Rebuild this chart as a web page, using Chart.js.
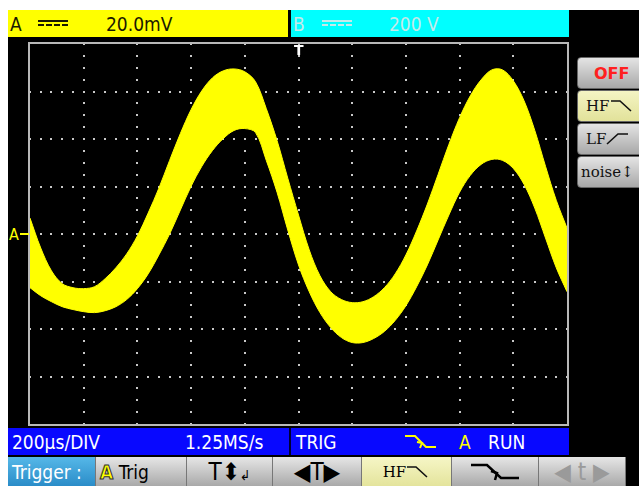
<!DOCTYPE html>
<html>
<head>
<meta charset="utf-8">
<script src="https://cdn.jsdelivr.net/npm/chart.js@4.4.1/dist/chart.umd.min.js"></script>
<style>
  body { margin: 0; background: #fff; width: 639px; height: 486px; overflow: hidden; position: relative;
         font-family: "Liberation Sans Narrow", "DejaVu Sans Condensed", "Liberation Sans", sans-serif; }
  .abs { position: absolute; }
  #screen { left: 8px; top: 10px; width: 631px; height: 476px; background: #000; }
  .bar { height: 27px; line-height: 28px; font-size: 19px; }
  #barA { left: 8px; top: 10px; width: 280px; background: #ffff00; color: #1a1a00; }
  #barB { left: 291px; top: 10px; width: 278px; background: #00ffff; color: #c4eaea; }
  .dc { position: absolute; top: 10px; width: 30px; height: 6px; }
  .dc i { display: block; height: 0; border-top: 2px solid currentColor; margin-bottom: 2px; }
  .dc i.d { border-top-style: dashed; }
  #plot { left: 28px; top: 42px; width: 537px; height: 380px; border: 2px solid #b8b8b8; background: #000; }
  #status { left: 8px; top: 428px; width: 561px; height: 27px; background: #0808ff; color: #fff; font-size: 19px; line-height: 28px; }
  .btn { position: absolute; top: 457px; height: 29px; background: linear-gradient(#e6e6e6, #a9a9a9);
         border-right: 1px solid #777; box-sizing: border-box; font-size: 19px; line-height: 30px; color: #000; text-align: center; }
  .rbtn { position: absolute; left: 577px; width: 66px; height: 32px; border-radius: 4px; box-sizing: border-box;
          border: 1px solid #666; background: linear-gradient(#e4e4e4, #a8a8a8); text-align: left; padding-left: 8px;
          font-family: "DejaVu Serif", "Liberation Serif", serif; font-size: 15px; line-height: 31px; color: #111; }
</style>
</head>
<body>
<div id="screen" class="abs"></div>

<div id="barA" class="abs bar">
  <span class="abs" style="left:2px;">A</span>
  <span class="dc" style="left:30px;"><i></i><i class="d"></i></span>
  <span class="abs" style="left:98px;">20.0mV</span>
</div>
<div id="barB" class="abs bar">
  <span class="abs" style="left:2px;">B</span>
  <span class="dc" style="left:31px;"><i></i><i class="d"></i></span>
  <span class="abs" style="left:98px;">200 V</span>
</div>

<div id="plot" class="abs"><canvas id="scope" width="537" height="380"></canvas></div>
<div class="abs" style="left:294px; top:42px; color:#fff; font: bold 14px 'DejaVu Sans', sans-serif;">T</div>
<div class="abs" style="left:9px; top:225px; color:#ffff00; font-size:16px;">A</div>
<div class="abs" style="left:20px; top:233px; width:9px; height:2px; background:#ffff00;"></div>

<div class="rbtn" style="top:57px; color:#ff2020; font-family:'DejaVu Sans', sans-serif; font-weight:bold; font-size:16px; padding-left:16px;">OFF</div>
<div class="rbtn" style="top:90px; background:linear-gradient(#f4f4c4,#e2e29a);">HF<svg width="24" height="14" style="vertical-align:-1px"><polyline points="1,3 10,3 21,13" fill="none" stroke="#111" stroke-width="1.6"/></svg></div>
<div class="rbtn" style="top:123px;">LF<svg width="24" height="14" style="vertical-align:-1px"><polyline points="1,13 12,3 22,3" fill="none" stroke="#111" stroke-width="1.6"/></svg></div>
<div class="rbtn" style="top:156px; padding-left:3px;">noise&#x2195;</div>

<div id="status" class="abs">
  <span class="abs" style="left:4px;">200µs/DIV</span>
  <span class="abs" style="left:177px;">1.25MS/s</span>
  <span class="abs" style="left:281px; top:0; width:2px; height:27px; background:#000030;"></span>
  <span class="abs" style="left:288px;">TRIG</span>
  <svg class="abs" style="left:396px; top:6px;" width="34" height="16"><polyline points="1,2 11,2 22,13 32,13" fill="none" stroke="#ffff00" stroke-width="2"/><polyline points="13,8 18,9 16,14" fill="none" stroke="#ffff00" stroke-width="2"/></svg>
  <span class="abs" style="left:451px; color:#ffff00;">A</span>
  <span class="abs" style="left:480px;">RUN</span>
</div>

<div class="btn" style="left:8px; width:88px; background:linear-gradient(#56b8e8,#2a8cc8); color:#fff; text-align:left; padding-left:4px;">Trigger :</div>
<div class="btn" style="left:96px; width:91px; text-align:left; padding-left:4px;"><span style="color:#ffff00; -webkit-text-stroke:1px #333; font-weight:bold;">A</span> Trig</div>
<div class="btn" style="left:187px; width:86px; font-size:24px;">T&#x2B0D;<span style="font-size:14px;">&#x21B2;</span></div>
<div class="btn" style="left:273px; width:89px; font-size:24px;">&#x25C0;T&#x25B6;</div>
<div class="btn" style="left:362px; width:90px; background:linear-gradient(#f6f6c6,#e4e49c); font-family:'DejaVu Serif',serif; font-size:15px;">HF<svg width="24" height="14" style="vertical-align:-1px"><polyline points="1,3 10,3 21,13" fill="none" stroke="#111" stroke-width="1.6"/></svg></div>
<div class="btn" style="left:452px; width:87px;"><svg width="52" height="22" style="margin-top:4px"><polyline points="2,4 18,4 32,17 50,17" fill="none" stroke="#000" stroke-width="2.5"/><polyline points="22,10 28,12 26,19" fill="none" stroke="#000" stroke-width="2.5"/></svg></div>
<div class="btn" style="left:539px; width:87px; color:#9a9a9a; font-size:24px;">&#x25C0; t &#x25B6;</div>

<script>
// time axis (µs), 200 µs/div, trigger at centre
const timeUs = [-1000, -960, -920, -880, -840, -800, -760, -720, -680, -640,
                -600, -560, -520, -480, -440, -400, -360, -320, -280, -240,
                -200, -160, -120, -80, -40, 0, 40, 80, 120, 160,
                200, 240, 280, 320, 360, 400, 440, 480, 520, 560,
                600, 640, 680, 720, 760, 800, 840, 880, 920, 960, 1000];

// top edge of the noisy trace (mV), 20 mV/div
const upperMv = [6.7, -5.9, -15.5, -20.9, -22.6, -23.0, -22.2, -18.8, -14.2, -8.4,
                 -0.8, 8.8, 19.3, 31.0, 42.3, 52.4, 60.3, 65.8, 68.7, 69.5,
                 68.3, 64.1, 52.8, 39.4, 23.5, 8.0, -6.7, -17.6, -24.3, -27.6,
                 -28.9, -28.5, -26.4, -22.6, -16.8, -8.8, 1.3, 12.6, 25.1, 37.7,
                 49.0, 58.2, 64.9, 69.1, 69.1, 64.5, 56.1, 43.6, 28.5, 14.2, 2.5];

// bottom edge of the noisy trace (mV)
const lowerMv = [-22.6, -26.0, -28.5, -30.6, -31.8, -32.7, -33.1, -32.3, -30.6, -27.6,
                 -23.0, -16.8, -8.8, 0.0, 10.1, 20.1, 28.5, 35.2, 40.2, 43.6,
                 44.4, 42.7, 31.0, 17.6, 1.7, -13.0, -24.3, -33.1, -39.4, -43.6,
                 -45.7, -45.7, -44.0, -41.0, -36.4, -30.2, -22.2, -13.0, -2.5, 8.0,
                 17.6, 24.7, 29.3, 31.4, 31.0, 27.6, 20.9, 10.9, -1.7, -14.2, -24.3];

// screen graticule
const xDivs = [-800, -600, -400, -200, 0, 200, 400, 600, 800];
const yDivs = [-60, -40, -20, 0, 20, 40, 60];

const toPoints = (ys) => timeUs.map((t, i) => ({x: t, y: ys[i]}));

// Graticule plugin: dotted grid like the scope screen
const scopeGrid = {
    id: 'scopeGrid',
    beforeDatasetsDraw(chart) {
        const {ctx, scales: {x, y}} = chart;
        ctx.save();
        ctx.fillStyle = '#c8c8c8';
        // vertical lines, dot every 1/4 div
        xDivs.forEach(t => {
            const px = Math.round(x.getPixelForValue(t));
            for (let v = -80; v <= 80; v += 5) {
                ctx.fillRect(px - 1, Math.round(y.getPixelForValue(v)) - 1, 2, 2);
            }
        });
        // horizontal lines, dot every 1/5 div
        yDivs.forEach(v => {
            const py = Math.round(y.getPixelForValue(v));
            for (let t = -1000; t <= 1000; t += 40) {
                ctx.fillRect(Math.round(x.getPixelForValue(t)) - 1, py - 1, 2, 2);
            }
        });
        ctx.restore();
    }
};

const scopeConfig = {
    type: 'line',
    data: {
        datasets: [
            {
                label: 'upper',
                data: toPoints(upperMv),
                borderColor: '#ffff00',
                backgroundColor: '#ffff00',
                borderWidth: 1,
                pointRadius: 0,
                tension: 0.35,
                fill: '+1',
            },
            {
                label: 'lower',
                data: toPoints(lowerMv),
                borderColor: '#ffff00',
                backgroundColor: '#ffff00',
                borderWidth: 1,
                pointRadius: 0,
                tension: 0.35,
                fill: false,
            }
        ]
    },
    options: {
        responsive: false,
        animation: false,
        devicePixelRatio: 1,
        layout: {padding: 0},
        plugins: {
            legend: {display: false},
            tooltip: {enabled: false},
        },
        scales: {
            x: {type: 'linear', min: -1000, max: 1000, display: false},
            y: {min: -80, max: 80, display: false}
        }
    },
    plugins: [scopeGrid]
};

const scopeChart = new Chart(document.getElementById('scope'), scopeConfig);
</script>
</body>
</html>
